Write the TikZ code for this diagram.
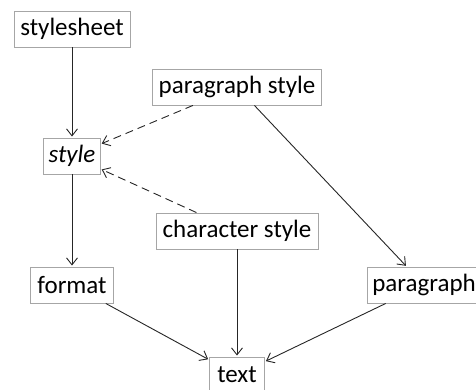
\documentclass[tikz,border=0pt]{standalone}
\usepackage{fontspec}
\setmainfont{Carlito}
\usetikzlibrary{arrows.meta}
\begin{document}
\begin{tikzpicture}[x=1pt,y=-1pt,
  box/.style={draw=black!35, line width=0.9pt, fill=white, minimum height=36pt, inner xsep=5pt, inner ysep=0pt, font=\fontsize{25}{29}\selectfont, text=black},
  conn/.style={draw=black!85, line width=0.9pt, -{Straight Barb[length=7pt,width=11pt,line width=0.9pt]}, shorten >=1pt},
  dconn/.style={conn, dash pattern=on 8pt off 5pt}]
\useasboundingbox (0,0) rectangle (476,390);
\node[box, minimum width=116pt] (sheet) at (72,29) {stylesheet};
\node[box, minimum width=169pt] (pstyle) at (237,87) {paragraph style};
\node[box, minimum width=53pt] (style) at (72,156) {\itshape style};
\node[box, minimum width=162pt] (cstyle) at (237,231) {character style};
\node[box, minimum width=83pt] (format) at (72,285) {format};
\node[box, minimum width=113pt, inner xsep=3pt] (para) at (424,285) {paragraph};
\node[box, minimum width=55pt] (text) at (237,375) {text};
\draw[conn] (sheet) -- (style);
\draw[dconn] (pstyle) -- (style);
\draw[dconn] (cstyle) -- (style);
\draw[conn] (style) -- (format);
\draw[conn] (pstyle) -- (para);
\draw[conn] (cstyle) -- (text);
\draw[conn] (format) -- (text);
\draw[conn] (para) -- (text);
\end{tikzpicture}
\end{document}
